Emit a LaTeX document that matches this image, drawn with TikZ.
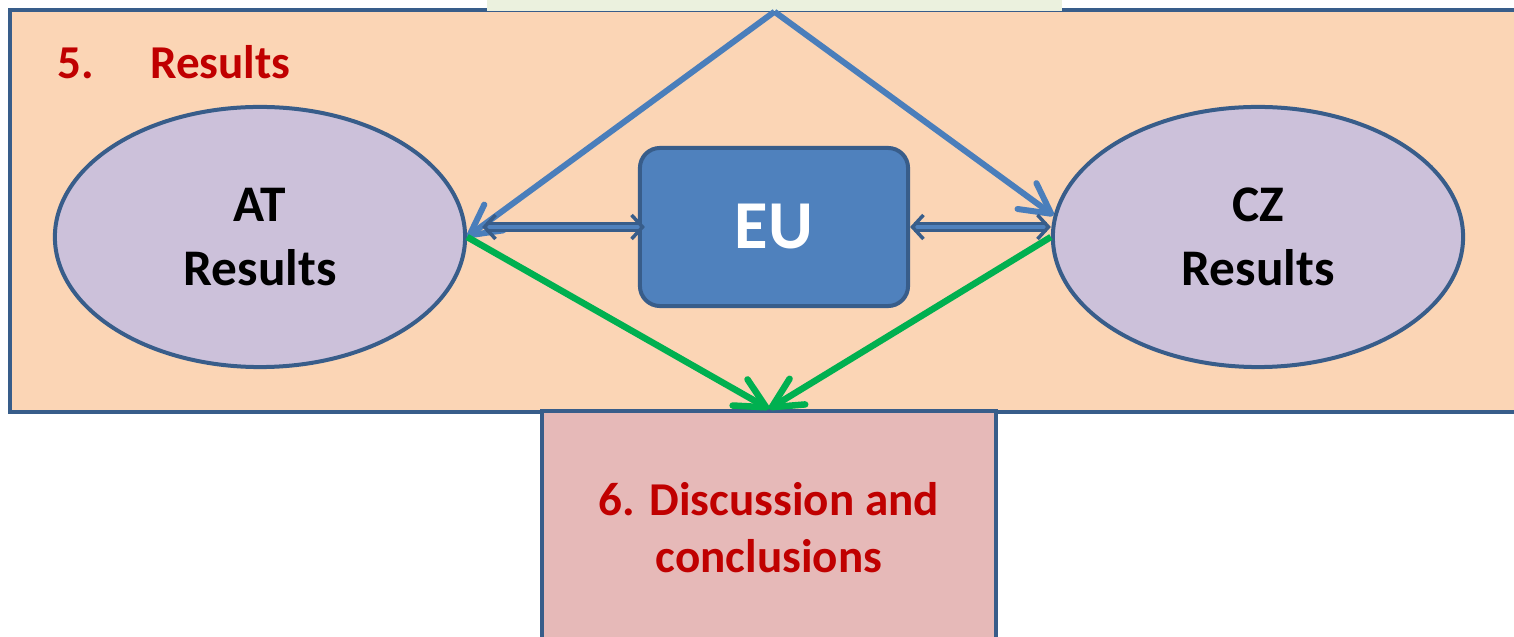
\documentclass[tikz,border=0pt]{standalone}
\usepackage{fontspec}
\setmainfont{Carlito}
\usetikzlibrary{shapes.geometric,arrows.meta}
\definecolor{boxline}{HTML}{385D8A}
\definecolor{resultsfill}{HTML}{FBD5B5}
\definecolor{prevfill}{HTML}{EBF1DE}
\definecolor{countryfill}{HTML}{CCC1DA}
\definecolor{eublue}{HTML}{4F81BD}
\definecolor{linkblue}{HTML}{4A7EBB}
\definecolor{discfill}{HTML}{E6B9B8}
\definecolor{titlered}{HTML}{C00000}
\definecolor{flowgreen}{HTML}{00B050}
\begin{document}
\begin{tikzpicture}[x=0.01cm, y=-0.01cm,
  every node/.style = {align=center, inner sep=0pt},
  frame/.style = {draw=boxline, line width=0.4mm},
  country/.style = {frame, ellipse, fill=countryfill, minimum width=4.1cm, minimum height=2.6cm,
    font=\fontsize{14.6}{18.2}\selectfont\bfseries},
  heading/.style = {text=titlered, font=\fontsize{13.4}{16.2}\selectfont\bfseries},
  link/.style = {draw=linkblue, line width=0.6mm, -{Straight Barb[length=3mm, width=3.2mm, round]}},
  flow/.style = {draw=flowgreen, line width=0.65mm, -{Straight Barb[length=3mm, width=3mm, round]}},
  pair/.style = {draw=boxline, double=eublue, double distance=0.35mm, line width=0.35mm,
    {Straight Barb[length=1.1mm, width=2.4mm]}-{Straight Barb[length=1.1mm, width=2.4mm]}}]
  \clip (0,0) rectangle (1514,637);
  \node[frame, fill=resultsfill, minimum width=15.2cm, minimum height=4.02cm] (results) at (770,211) {};
  \node[fill=prevfill, minimum width=5.75cm, minimum height=0.22cm] (prev) at (774.5,0) {};
  \node[heading, anchor=base west] (title) at (57,79) {5.\hspace{0.56cm}Results};
  \node[country] (at) at (260,237) {AT\\Results};
  \node[country] (cz) at (1258,237) {CZ\\Results};
  \node[frame, fill=eublue, rounded corners=0.2cm, minimum width=2.68cm, minimum height=1.58cm,
    text=white, font=\fontsize{19.5}{24}\selectfont\bfseries] (eu) at (774,227) {EU};
  \node[frame, heading, fill=discfill, minimum width=4.54cm, minimum height=2.34cm] (disc) at (769,528)
    {6. Discussion and\\conclusions};
  \draw[link] (prev.south) -- (at.east);
  \draw[link] (prev.south) -- (cz.174);
  \draw[pair, shorten <=1.5mm, shorten >=-0.7mm] (at.east |- eu.west) -- (eu.west);
  \draw[pair] (eu.east) -- (cz.west |- eu.east);
  \draw[flow] (at.east) -- (disc.north);
  \draw[flow] (cz.west) -- (disc.north);
\end{tikzpicture}
\end{document}
